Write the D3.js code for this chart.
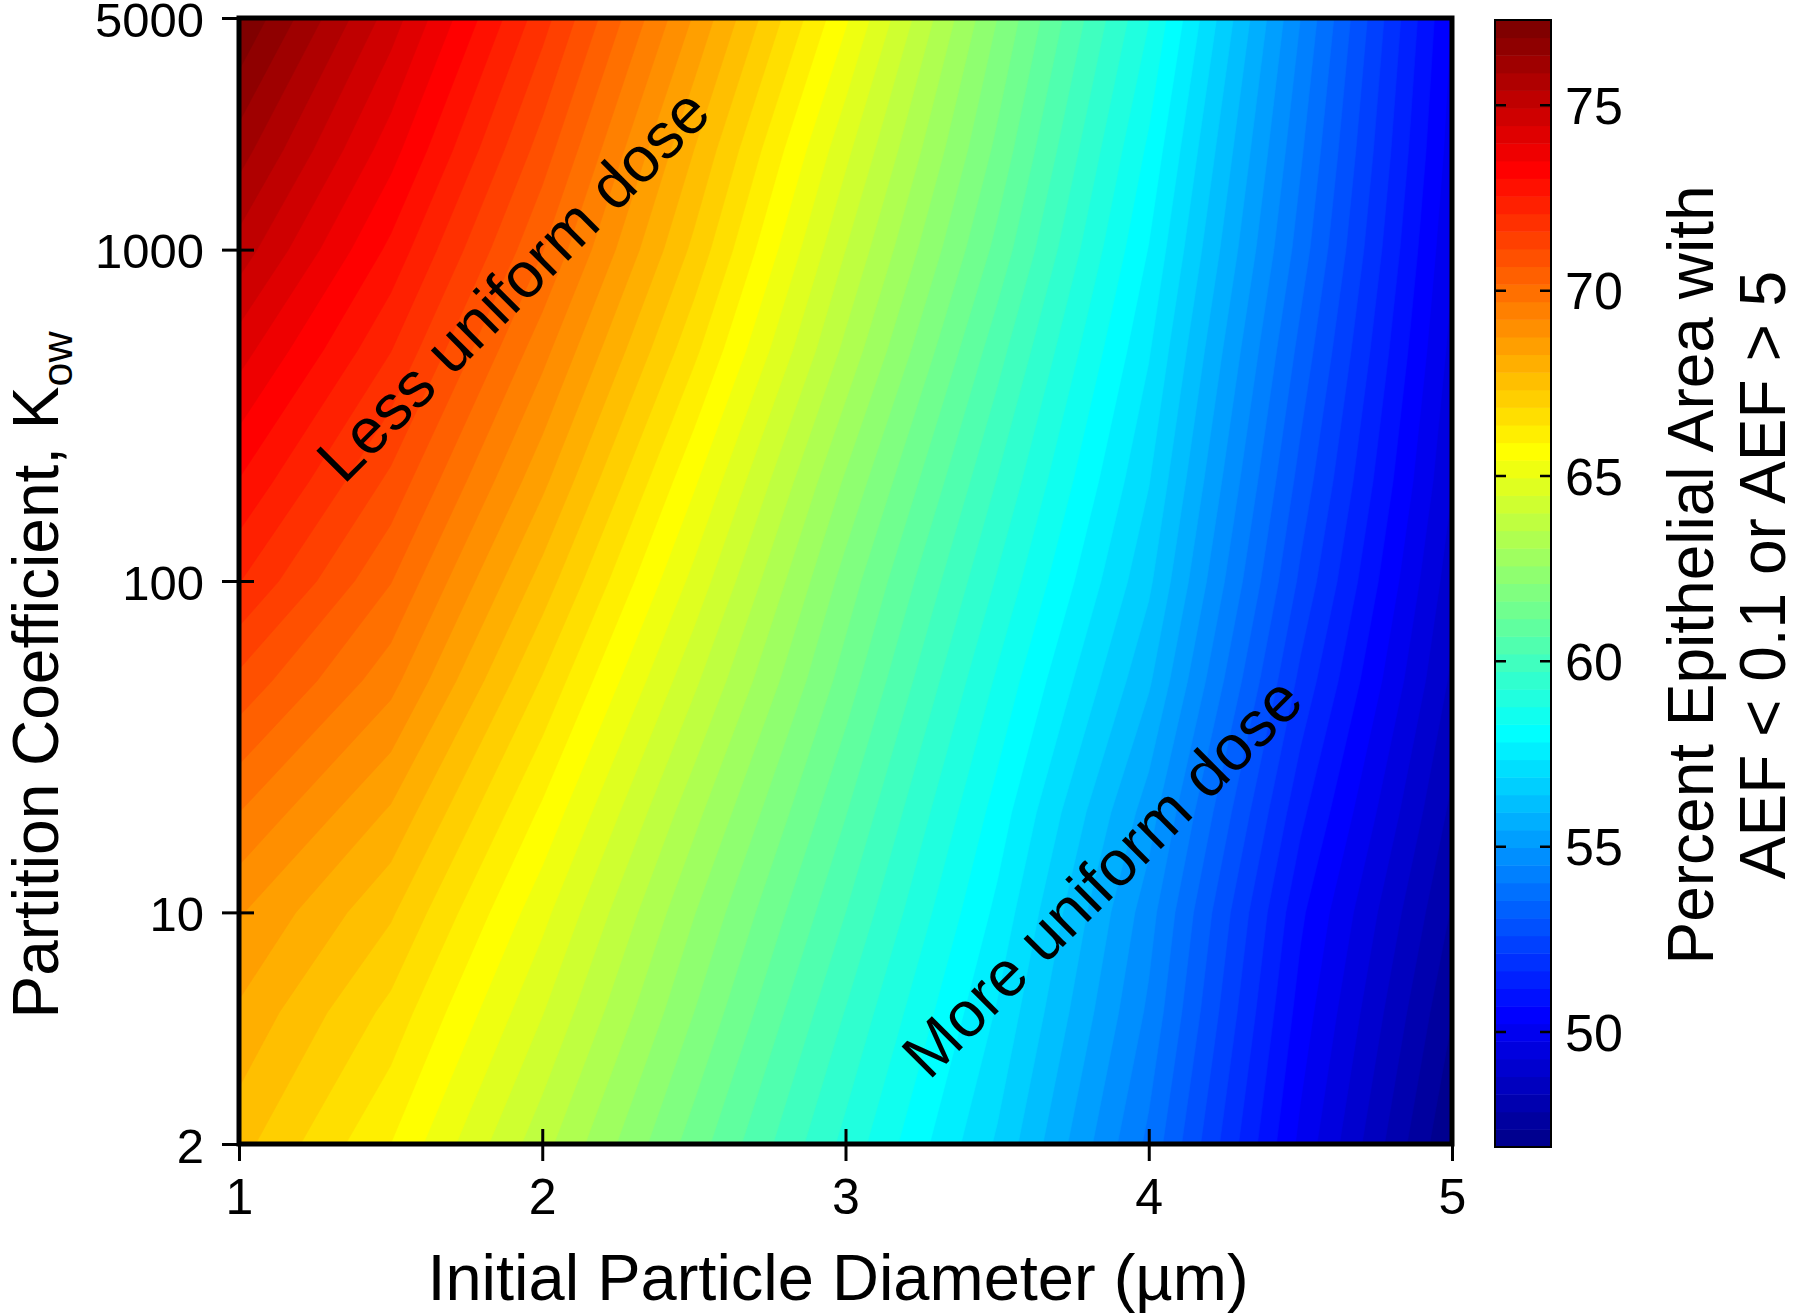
<!DOCTYPE html>
<html>
<head>
<meta charset="utf-8">
<script src="https://cdn.jsdelivr.net/npm/d3@7"></script>
<style>
  body { margin: 0; background: #fff; }
  text { font-family: "Liberation Sans", Arial, Helvetica, sans-serif; fill: #000; }
</style>
</head>
<body>
<script>
// grid the model was run on
const diameters = [1, 1.5, 2, 2.5, 3, 3.5, 4, 4.5, 5];
const kowLevels = [2, 5, 10, 20, 50, 100, 200, 500, 1000, 2000, 5000];
// percent epithelial area with AEF < 0.1 or AEF > 5
// one row per Kow (low -> high), one column per diameter
const pctArea = [
  [67.5, 65.9, 63.7, 61.4, 59.1, 56.8, 53.9, 50.1, 46.9],
  [68.2, 66.7, 64.5, 62.1, 59.7, 57.3, 54.4, 50.5, 47.4],
  [68.8, 67.4, 65.1, 62.6, 60.2, 57.7, 54.7, 50.8, 47.8],
  [69.7, 68.2, 65.8, 63.2, 60.7, 58.1, 55.2, 51.3, 48.2],
  [71.0, 69.4, 66.8, 64.1, 61.4, 58.7, 56.0, 52.0, 48.7],
  [72.1, 70.2, 67.6, 64.8, 61.9, 59.2, 56.5, 52.5, 49.0],
  [73.0, 71.0, 68.4, 65.5, 62.5, 59.7, 56.9, 52.9, 49.3],
  [74.2, 72.1, 69.4, 66.5, 63.4, 60.4, 57.4, 53.4, 49.6],
  [75.2, 72.9, 70.2, 67.2, 64.0, 61.0, 57.8, 53.8, 49.8],
  [76.1, 73.7, 70.9, 67.8, 64.6, 61.5, 58.2, 54.1, 50.0],
  [77.3, 74.7, 71.8, 68.7, 65.5, 62.1, 58.8, 54.5, 50.2]
];
const xTicks = [1, 2, 3, 4, 5];
const yTicks = [2, 10, 100, 1000, 5000];
const colorRange = [46.9, 77.3];
const colorTicks = [50, 55, 60, 65, 70, 75];
const nColors = 64;

const width  = 1800;
const height = 1315;
const plot   = {left: 239, right: 1452, top: 18, bottom: 1144};
const cbar   = {left: 1495, right: 1551, top: 20, bottom: 1147};

// matlab jet(64)
const jet = function(k) {
  let r, g, b;
  if (k < 8)       { r = 0; g = 0; b = (k + 9) / 16; }
  else if (k < 24) { r = 0; g = (k - 7) / 16; b = 1; }
  else if (k < 40) { r = (k - 23) / 16; g = 1; b = 1 - (k - 23) / 16; }
  else if (k < 56) { r = 1; g = 1 - (k - 39) / 16; b = 0; }
  else             { r = 1 - (k - 55) / 16; g = 0; b = 0; }
  return d3.rgb(r * 255, g * 255, b * 255).toString();
};

const svg = d3.select('body').append('svg')
    .attr('width', width)
    .attr('height', height);

svg.append('rect').attr('width', width).attr('height', height).attr('fill', '#fff');

const x = d3.scaleLinear().domain([1, 5]).range([plot.left, plot.right]);
const y = d3.scaleLog().domain([2, 5000]).range([plot.bottom, plot.top]);

// grid index -> pixel (piecewise, keeps the log spacing of Kow)
const nx = diameters.length;
const ny = kowLevels.length;
const colPx = d3.scaleLinear().domain(d3.range(nx)).range(diameters.map(d => x(d)));
const rowPx = d3.scaleLinear().domain(d3.range(ny)).range(kowLevels.map(k => y(k)));

const step = (colorRange[1] - colorRange[0]) / nColors;
const thresholds = d3.range(nColors).map(k => colorRange[0] + k * step);

const contours = d3.contours()
    .size([nx, ny])
    .thresholds(thresholds)(pctArea.flat());

const toPx = d3.geoTransform({
  point: function(gx, gy) {
    const ix = Math.max(0, Math.min(nx - 1, gx - 0.5));
    const iy = Math.max(0, Math.min(ny - 1, gy - 0.5));
    this.stream.point(colPx(ix), rowPx(iy));
  }
});
const path = d3.geoPath(toPx);

svg.append('clipPath').attr('id', 'plotClip')
  .append('rect')
    .attr('x', plot.left).attr('y', plot.top)
    .attr('width', plot.right - plot.left)
    .attr('height', plot.bottom - plot.top);

svg.append('g')
    .attr('clip-path', 'url(#plotClip)')
  .selectAll('path')
  .data(contours)
  .enter().append('path')
    .attr('d', path)
    .attr('fill', (d, i) => jet(i))
    .attr('fill-rule', 'evenodd')
    .attr('stroke', (d, i) => jet(i))
    .attr('stroke-width', 0.6);

// annotations
svg.append('text')
    .attr('transform', 'translate(513,285) rotate(-45)')
    .attr('text-anchor', 'middle')
    .attr('dominant-baseline', 'central')
    .style('font-size', '64px')
    .text('Less uniform dose');

svg.append('text')
    .attr('transform', 'translate(1102,877) rotate(-45)')
    .attr('text-anchor', 'middle')
    .attr('dominant-baseline', 'central')
    .style('font-size', '64px')
    .text('More uniform dose');

// axes
const xAxis = svg.append('g')
    .attr('transform', 'translate(0,' + plot.bottom + ')')
    .call(d3.axisBottom(x).tickValues(xTicks).tickFormat(d3.format('d')).tickSize(17).tickPadding(17));
xAxis.select('.domain').remove();
xAxis.selectAll('.tick line').attr('y1', -15).attr('stroke-width', 3);
xAxis.selectAll('.tick text').style('font-size', '50px').attr('fill', '#000');

const yAxis = svg.append('g')
    .attr('transform', 'translate(' + plot.left + ',0)')
    .call(d3.axisLeft(y).tickValues(yTicks).tickFormat(d3.format('d')).tickSize(17).tickPadding(18));
yAxis.select('.domain').remove();
yAxis.selectAll('.tick line').attr('x1', 15).attr('stroke-width', 3);
yAxis.selectAll('.tick text')
    .style('font-size', '49px')
    .attr('dy', '0.37em')
    .attr('fill', '#000');

svg.append('rect')
    .attr('x', plot.left).attr('y', plot.top)
    .attr('width', plot.right - plot.left)
    .attr('height', plot.bottom - plot.top)
    .attr('fill', 'none')
    .attr('stroke', '#000')
    .attr('stroke-width', 5);

svg.append('text')
    .attr('x', 838)
    .attr('y', 1300)
    .attr('text-anchor', 'middle')
    .style('font-size', '65px')
    .text('Initial Particle Diameter (\u00b5m)');

const yLab = svg.append('text')
    .attr('transform', 'translate(58,675) rotate(-90)')
    .attr('text-anchor', 'middle')
    .style('font-size', '64px');
yLab.append('tspan').text('Partition Coefficient, K');
yLab.append('tspan').attr('dy', 14).style('font-size', '43px').text('ow');

// colour bar
const cy = d3.scaleLinear().domain(colorRange).range([cbar.bottom, cbar.top]);
const cb = svg.append('g');
cb.selectAll('rect')
  .data(thresholds)
  .enter().append('rect')
    .attr('x', cbar.left)
    .attr('width', cbar.right - cbar.left)
    .attr('y', d => cy(d + step))
    .attr('height', d => cy(d) - cy(d + step) + 0.5)
    .attr('fill', (d, i) => jet(i));

cb.selectAll('.ctick')
  .data(colorTicks)
  .enter().append('path')
    .attr('class', 'ctick')
    .attr('d', d => 'M' + cbar.left + ',' + cy(d) + 'h11M' + cbar.right + ',' + cy(d) + 'h-11')
    .attr('stroke', '#000')
    .attr('stroke-width', 2.5);

cb.append('rect')
    .attr('x', cbar.left).attr('y', cbar.top)
    .attr('width', cbar.right - cbar.left)
    .attr('height', cbar.bottom - cbar.top)
    .attr('fill', 'none')
    .attr('stroke', '#000')
    .attr('stroke-width', 2);

cb.selectAll('.clabel')
  .data(colorTicks)
  .enter().append('text')
    .attr('class', 'clabel')
    .attr('x', 1565)
    .attr('y', d => cy(d))
    .attr('dy', '0.36em')
    .style('font-size', '52px')
    .text(d => d);

svg.append('text')
    .attr('transform', 'translate(1713,575) rotate(-90)')
    .attr('text-anchor', 'middle')
    .style('font-size', '64px')
    .text('Percent Epithelial Area with');

svg.append('text')
    .attr('transform', 'translate(1785,575) rotate(-90)')
    .attr('text-anchor', 'middle')
    .style('font-size', '64px')
    .text('AEF < 0.1 or AEF > 5');
</script>
</body>
</html>
